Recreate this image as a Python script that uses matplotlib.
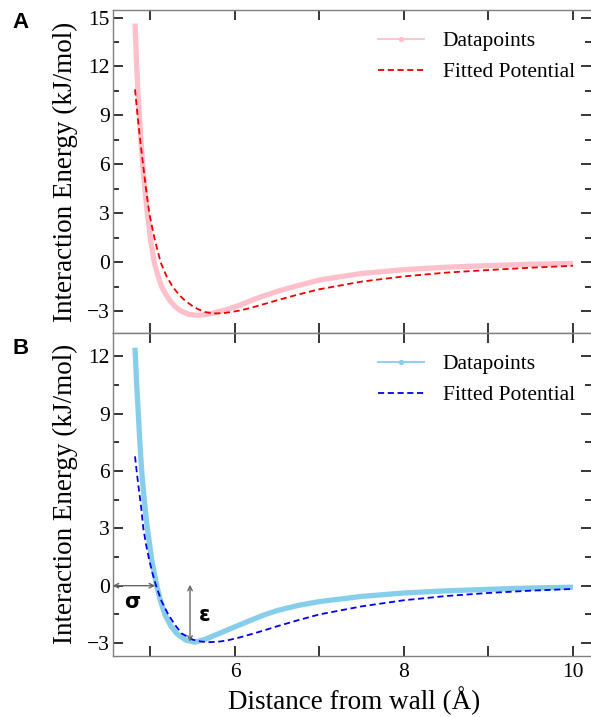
import matplotlib
matplotlib.use("Agg")
import matplotlib.pyplot as plt
from matplotlib.lines import Line2D
from matplotlib.ticker import MultipleLocator, FixedLocator, FuncFormatter
from matplotlib.legend_handler import HandlerLine2D

# ---------------- data ----------------
# Panel A
a_data_x = [4.817, 4.826, 4.837, 4.850, 4.868, 4.887, 4.908, 4.934, 4.963, 5.000, 5.045, 5.090,
            5.133, 5.18, 5.23, 5.29, 5.35, 5.45, 5.55, 5.65, 5.75, 5.90, 6.06, 6.25, 6.50,
            6.75, 7.00, 7.50, 8.00, 8.50, 9.00, 9.50, 10.00]
a_data_y = [14.63, 13.5, 12.0, 10.6, 9.0, 7.5, 6.0, 4.5, 3.0, 1.4, 0.0, -0.85,
            -1.5, -1.95, -2.35, -2.7, -2.95, -3.18, -3.25, -3.2, -3.1, -2.9, -2.62, -2.22, -1.78,
            -1.42, -1.08, -0.68, -0.45, -0.30, -0.20, -0.12, -0.07]

a_fit_x = [4.817, 4.847, 4.878, 4.912, 4.947, 4.986, 5.046, 5.12, 5.19, 5.263, 5.34, 5.41,
           5.49, 5.566, 5.65, 5.74, 5.85, 5.95, 6.06, 6.18, 6.35, 6.50, 6.75, 7.00, 7.50,
           8.00, 8.50, 9.00, 9.50, 10.00]
a_fit_y = [10.6, 9.0, 7.5, 6.0, 4.5, 3.0, 1.5, 0.0, -0.85, -1.5, -2.0, -2.35,
           -2.65, -2.88, -3.05, -3.13, -3.12, -3.05, -2.95, -2.8, -2.55, -2.32, -1.97, -1.65, -1.18,
           -0.86, -0.63, -0.47, -0.33, -0.21]

# Panel B
b_data_x = [4.817, 4.836, 4.856, 4.875, 4.896, 4.928, 4.963, 5.015, 5.074, 5.12, 5.17, 5.24,
            5.31, 5.42, 5.527, 5.65, 5.80, 6.00, 6.18, 6.35, 6.50, 6.75, 7.00, 7.50, 8.00,
            8.50, 9.00, 9.50, 10.00]
b_data_y = [12.44, 10.6, 9.0, 7.45, 6.0, 4.4, 3.0, 1.35, 0.0, -0.8, -1.5, -2.1,
            -2.5, -2.85, -2.95, -2.8, -2.52, -2.15, -1.82, -1.52, -1.30, -1.03, -0.83, -0.56, -0.38,
            -0.27, -0.19, -0.12, -0.08]

b_fit_x = [4.817, 4.84, 4.865, 4.89, 4.915, 4.95, 4.99, 5.03, 5.066, 5.13, 5.21, 5.29, 5.37,
           5.50, 5.60, 5.70, 5.80, 5.90, 6.06, 6.18, 6.35, 6.50, 6.75, 7.00, 7.50, 8.00,
           8.50, 9.00, 9.50, 10.00]
b_fit_y = [6.76, 5.85, 4.95, 4.1, 3.0, 2.1, 1.25, 0.55, 0.0, -0.8, -1.5, -2.05, -2.5,
           -2.82, -2.92, -2.95, -2.93, -2.87, -2.7, -2.55, -2.33, -2.12, -1.8, -1.5, -1.08, -0.76,
           -0.54, -0.38, -0.26, -0.17]

# annotation values (panel B)
sigma_x = 5.055
eps_x = 5.468
eps_min = -2.93

legend_labels = ["Datapoints", "Fitted Potential"]
x_tick_values = [5, 6, 7, 8, 9, 10]
x_tick_labeled = [6, 8, 10]

# ---------------- styling ----------------
SERIF = ["Liberation Serif", "DejaVu Serif"]
plt.rcParams["font.family"] = SERIF

fig = plt.figure(figsize=(5.91, 7.17), dpi=100)

W, H = 591.0, 717.0
left = 112.7 / W
width = 1.0 - left
axA = fig.add_axes([left, 1 - 333 / H, width, (333 - 10) / H])
axB = fig.add_axes([left, 1 - 655.7 / H, width, (655.7 - 333) / H])

XLIM = (4.553, 10.213)
axA.set_xlim(*XLIM)
axB.set_xlim(*XLIM)
axA.set_ylim(-4.33, 15.46)
axB.set_ylim(-3.66, 13.21)

spine_col = "#7f7f7f"
tick_fs = 15.5
label_fs = 19.5


def style(ax, show_xlabels):
    for side in ["left", "top", "bottom"]:
        ax.spines[side].set_color(spine_col)
        ax.spines[side].set_linewidth(1.0)
    ax.spines["right"].set_visible(False)
    ax.xaxis.set_major_locator(FixedLocator(x_tick_values))
    ax.xaxis.set_major_formatter(FuncFormatter(
        lambda v, p: ("%d" % v) if int(round(v)) in x_tick_labeled else ""))
    ax.yaxis.set_major_locator(MultipleLocator(3))
    ax.yaxis.set_minor_locator(MultipleLocator(1.5))
    ax.yaxis.set_major_formatter(FuncFormatter(
        lambda v, p: ("\u2212%d" % abs(v)) if v < 0 else "%d" % v))
    ax.tick_params(axis="both", which="major", direction="in", length=7.5, width=1.1,
                   color="black", labelsize=tick_fs, top=True, right=True)
    ax.tick_params(axis="y", which="minor", direction="in", length=4.5, width=1.1,
                   color="black", right=True, left=True)
    ax.tick_params(axis="y", which="major", pad=2)
    ax.tick_params(axis="x", which="major", pad=5)
    if not show_xlabels:
        ax.tick_params(axis="x", labelbottom=False)
    ax.set_ylabel("Interaction Energy (kJ/mol)", fontsize=label_fs)
    ax.yaxis.set_label_coords(-0.072, 0.5)


style(axA, False)
style(axB, True)
axB.set_xlabel("Distance from wall (\u00c5)", fontsize=label_fs)
axB.xaxis.set_label_coords(0.504, -0.095)

# curves
pink = "#ffc0cb"
red = "#ee0000"
sky = "#87ceeb"
blue = "#0000ee"
thick = 3.8
dash = (0, (3.4, 2.0))

axA.plot(a_data_x, a_data_y, color=pink, lw=thick, solid_capstyle="butt",
         solid_joinstyle="round", zorder=2)
axA.plot(a_fit_x, a_fit_y, color=red, lw=1.3, linestyle=dash, zorder=3)
axB.plot(b_data_x, b_data_y, color=sky, lw=thick, solid_capstyle="butt",
         solid_joinstyle="round", zorder=2)
axB.plot(b_fit_x, b_fit_y, color=blue, lw=1.3, linestyle=dash, zorder=3)


class MidMarker(HandlerLine2D):
    def create_artists(self, legend, orig_handle, xdescent, ydescent, width, height,
                       fontsize, trans):
        y = height / 2 - ydescent
        line = Line2D([-xdescent, -xdescent + width], [y, y], color=orig_handle.get_color(),
                      lw=orig_handle.get_linewidth(), transform=trans)
        dot = Line2D([-xdescent + width / 2], [y], color=orig_handle.get_color(),
                     marker="o", markersize=2.8, linestyle="none", transform=trans)
        return [line, dot]


for ax, c1, c2 in [(axA, pink, red), (axB, sky, blue)]:
    h1 = Line2D([], [], color=c1, lw=1.3)
    h2 = Line2D([], [], color=c2, lw=1.3, linestyle=dash)
    ax.legend([h1, h2], legend_labels, loc="upper left",
              bbox_to_anchor=(0.555, 0.934), frameon=False, fontsize=tick_fs,
              handlelength=2.15, handletextpad=0.85, labelspacing=0.5,
              borderpad=0, borderaxespad=0, handler_map={h1: MidMarker()})

# annotations in B
grey = "#666666"
axB.annotate("", xy=(XLIM[0], 0), xytext=(sigma_x, 0),
             arrowprops=dict(arrowstyle="<->", color=grey, lw=1.0, mutation_scale=8,
                             shrinkA=0, shrinkB=0))
axB.annotate("", xy=(eps_x, 0.05), xytext=(eps_x, eps_min),
             arrowprops=dict(arrowstyle="<->", color=grey, lw=1.0, mutation_scale=8,
                             shrinkA=0, shrinkB=0))
axB.text(4.79, -0.84, "\u03c3", fontsize=15, fontweight="bold",
         family=["DejaVu Sans"], ha="center", va="center")
axB.text(5.645, -1.53, "\u03b5", fontsize=15, fontweight="bold",
         family=["DejaVu Sans"], ha="center", va="center")

# panel letters
fig.text(20.5 / W, 1 - 22 / H, "A", fontsize=16, fontweight="bold",
         family=["Liberation Sans", "DejaVu Sans"], ha="center", va="center")
fig.text(20.5 / W, 1 - 348.5 / H, "B", fontsize=16, fontweight="bold",
         family=["Liberation Sans", "DejaVu Sans"], ha="center", va="center")

fig.savefig("out.png", dpi=100)
